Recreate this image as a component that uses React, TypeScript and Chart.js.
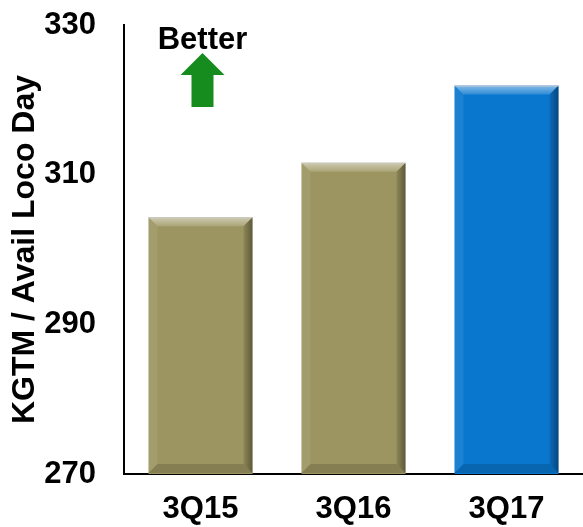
import React, { useEffect, useRef } from "react";
import { Chart, registerables } from "chart.js";

Chart.register(...registerables);

const categories = ["3Q15", "3Q16", "3Q17"];
const values = [304.3, 311.6, 321.9];
const yMin = 270;
const yMax = 330;
const yStep = 20;
const barColors = ["#9C9561", "#9C9561", "#0A77CF"];
const axisTitle = "KGTM / Avail Loco Day";
const noteText = "Better";

const FONT = "'Liberation Sans', Arial, sans-serif";

// Bevelled edges on each bar: light top/left, dark right/bottom.
const bevelPlugin = {
  id: "bevel",
  afterDatasetsDraw(chart: any) {
    const ctx = chart.ctx;
    const area = chart.chartArea;
    const meta = chart.getDatasetMeta(0);
    meta.data.forEach((bar: any) => {
      const { x, y, base, width } = bar.getProps(["x", "y", "base", "width"], true);
      const l = x - width / 2;
      const r = x + width / 2;
      const t = Math.max(y, area.top);
      const b = Math.min(base, area.bottom - 1);
      const s = 9;
      ctx.save();
      // top
      const g = ctx.createLinearGradient(0, t, 0, t + s);
      g.addColorStop(0, "rgba(255,255,255,0.5)");
      g.addColorStop(1, "rgba(255,255,255,0.15)");
      ctx.fillStyle = g;
      ctx.beginPath();
      ctx.moveTo(l, t);
      ctx.lineTo(r, t);
      ctx.lineTo(r - s, t + s);
      ctx.lineTo(l + s, t + s);
      ctx.closePath();
      ctx.fill();
      // left
      ctx.fillStyle = "rgba(255,255,255,0.08)";
      ctx.beginPath();
      ctx.moveTo(l, t);
      ctx.lineTo(l + s, t + s);
      ctx.lineTo(l + s, b - s);
      ctx.lineTo(l, b);
      ctx.closePath();
      ctx.fill();
      // right
      const gr = ctx.createLinearGradient(r - s, 0, r, 0);
      gr.addColorStop(0, "rgba(0,0,0,0.1)");
      gr.addColorStop(1, "rgba(0,0,0,0.4)");
      ctx.fillStyle = gr;
      ctx.beginPath();
      ctx.moveTo(r, t);
      ctx.lineTo(r, b);
      ctx.lineTo(r - s, b - s);
      ctx.lineTo(r - s, t + s);
      ctx.closePath();
      ctx.fill();
      // bottom
      ctx.fillStyle = "rgba(0,0,0,0.15)";
      ctx.beginPath();
      ctx.moveTo(l, b);
      ctx.lineTo(l + s, b - s);
      ctx.lineTo(r - s, b - s);
      ctx.lineTo(r, b);
      ctx.closePath();
      ctx.fill();
      // thin edge at the top
      ctx.strokeStyle = "rgba(200,200,200,0.8)";
      ctx.lineWidth = 1;
      ctx.beginPath();
      ctx.moveTo(l, t + 0.5);
      ctx.lineTo(r, t + 0.5);
      ctx.stroke();
      ctx.restore();
    });
  },
};

// "Better" note with an upward green arrow above the first category.
const notePlugin = {
  id: "betterNote",
  afterDraw(chart: any) {
    const ctx = chart.ctx;
    const cx = chart.scales.x.getPixelForValue(0) + 2;
    ctx.save();
    ctx.fillStyle = "#000";
    ctx.font = `bold 31px ${FONT}`;
    ctx.textAlign = "center";
    ctx.textBaseline = "middle";
    ctx.fillText(noteText, cx, 40);
    ctx.fillStyle = "#168C1E";
    ctx.beginPath();
    ctx.moveTo(cx, 53);
    ctx.lineTo(cx + 22, 75);
    ctx.lineTo(cx + 11, 75);
    ctx.lineTo(cx + 11, 107);
    ctx.lineTo(cx - 11, 107);
    ctx.lineTo(cx - 11, 75);
    ctx.lineTo(cx - 22, 75);
    ctx.closePath();
    ctx.fill();
    ctx.restore();
  },
};

export default function App() {
  const ref = useRef<HTMLCanvasElement | null>(null);

  useEffect(() => {
    if (!ref.current) return;
    const chart = new Chart(ref.current, {
      type: "bar",
      data: {
        labels: categories,
        datasets: [
          {
            data: values,
            backgroundColor: barColors,
            borderWidth: 0,
            barPercentage: 0.68,
            categoryPercentage: 1,
          },
        ],
      },
      options: {
        responsive: false,
        animation: false,
        layout: { padding: { top: 25, right: -7, left: 0, bottom: 0 } },
        plugins: { legend: { display: false }, tooltip: { enabled: false } },
        scales: {
          x: {
            grid: { display: false, drawTicks: false },
            border: { display: true, color: "#000", width: 2 },
            ticks: {
              color: "#000",
              font: { family: FONT, size: 31, weight: "bold" },
              padding: 17,
              maxRotation: 0,
            },
            afterFit(scale: any) {
              scale.height = 53;
            },
          },
          y: {
            min: yMin,
            max: yMax,
            grid: { display: false, drawTicks: false },
            border: { display: true, color: "#000", width: 2 },
            ticks: {
              stepSize: yStep,
              color: "#000",
              font: { family: FONT, size: 31, weight: "bold" },
              padding: 28,
            },
            title: {
              display: true,
              text: axisTitle,
              color: "#000",
              font: { family: FONT, size: 32, weight: "bold" },
              padding: { top: 6, bottom: 0 },
            },
            afterFit(scale: any) {
              scale.width = 124;
              scale.paddingTop = 0;
              scale.paddingBottom = 0;
            },
          },
        },
      },
      plugins: [bevelPlugin, notePlugin],
    });
    return () => chart.destroy();
  }, []);

  return (
    <div style={{ position: "absolute", left: 0, top: 0, width: 583, height: 527, background: "#fff" }}>
      <canvas ref={ref} width={583} height={527} style={{ display: "block" }} />
    </div>
  );
}
